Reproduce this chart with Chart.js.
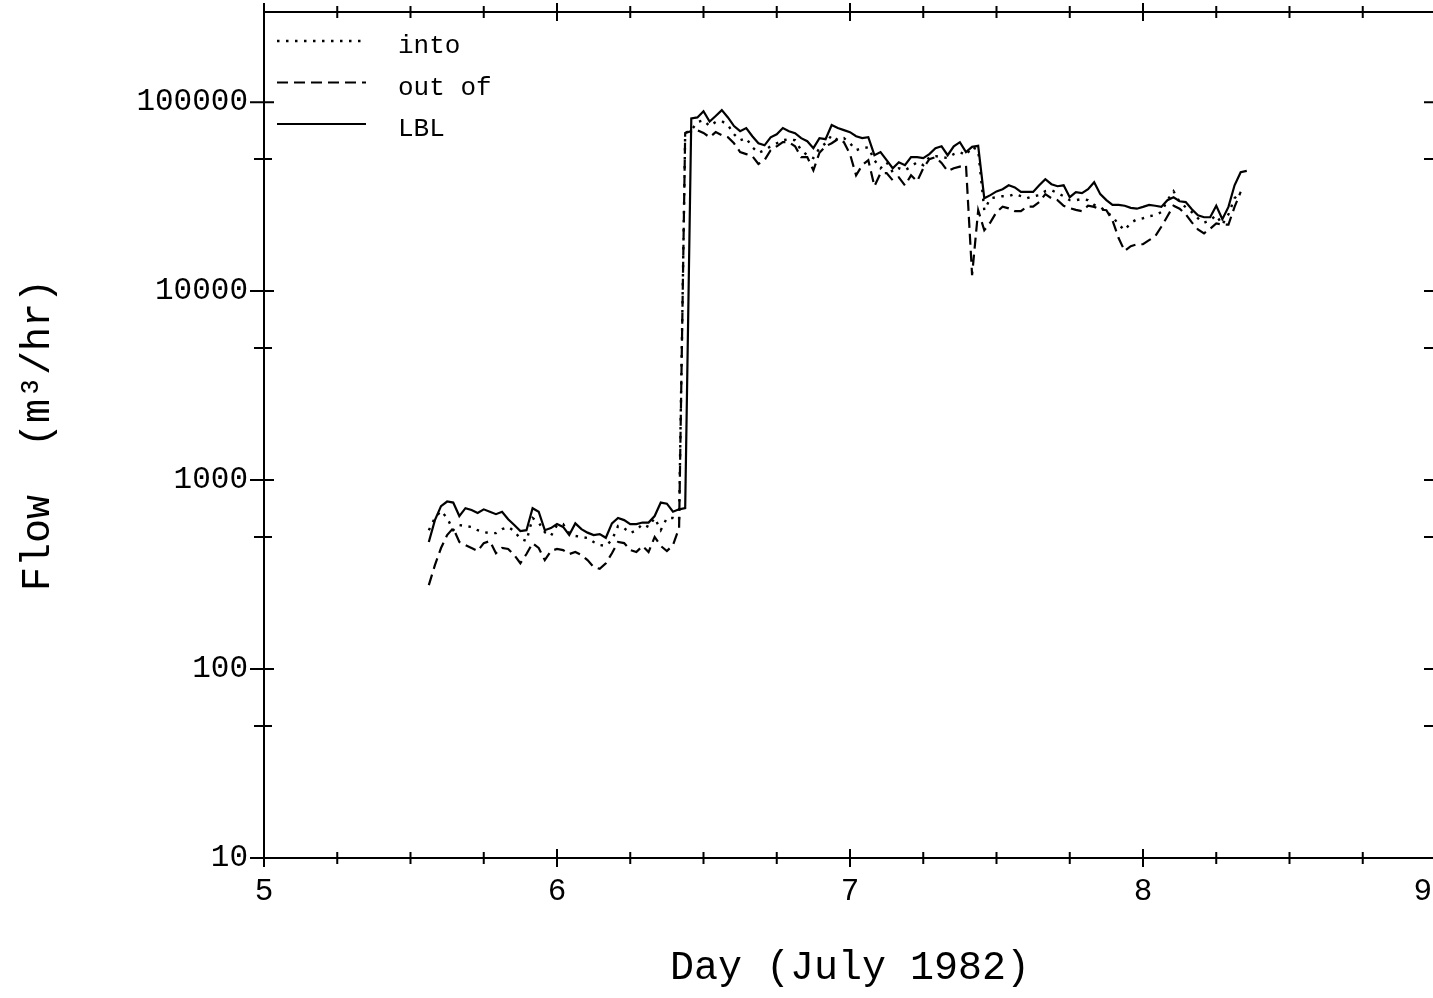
<!DOCTYPE html>
<html><head><meta charset="utf-8">
<script src="https://cdn.jsdelivr.net/npm/chart.js@4.4.1/dist/chart.umd.min.js"></script>
<style>
html,body{margin:0;padding:0;overflow:hidden;background:#fff;width:1433px;height:998px;}
#wrap{position:relative;width:1450px;height:998px;background:#fff;}
canvas{display:block;}
</style></head><body>
<div id="wrap"><canvas id="c" width="1450" height="998"></canvas></div>
<script>
// hours since 5 July 1982 00:00 (half-hourly readings)
const hours = [
13.5,14,14.5,15,15.5,16,16.5,17,17.5,18,
18.5,19,19.5,20,20.5,21,21.5,22,22.5,23,
23.5,24,24.5,25,25.5,26,26.5,27,27.5,28,
28.5,29,29.5,30,30.5,31,31.5,32,32.5,33,
33.5,34,34.5,35,35.5,36,36.5,37,37.5,38,
38.5,39,39.5,40,40.5,41,41.5,42,42.5,43,
43.5,44,44.5,45,45.5,46,46.5,47,47.5,48,
48.5,49,49.5,50,50.5,51,51.5,52,52.5,53,
53.5,54,54.5,55,55.5,56,56.5,57,57.5,58,
58.5,59,59.5,60,60.5,61,61.5,62,62.5,63,
63.5,64,64.5,65,65.5,66,66.5,67,67.5,68,
68.5,69,69.5,70,70.5,71,71.5,72,72.5,73,
73.5,74,74.5,75,75.5,76,76.5,77,77.5,78,
78.5,79,79.5,80,80.5];

const intoFlow = [
543,630,686,630,543,578,571,565,543,530,
524,524,550,565,537,488,476,630,597,530,
506,578,585,524,506,500,494,470,453,448,
482,571,557,524,543,585,565,630,543,630,
630,614,68700,71100,78500,80300,74700,78500,79300,75700,
67600,62900,64500,57700,54000,55700,58400,60600,62900,63700,
62900,55700,52400,50600,57100,60600,66800,62900,64500,60600,
55700,57100,57700,49300,44700,48100,42600,44700,43600,45600,
48100,46400,51200,51800,51200,50600,53100,54400,52400,58000,
55700,26800,31000,31400,31800,31800,32600,31800,31000,31800,
32200,33800,34200,33000,31800,30300,30300,30700,30300,28600,
27900,26200,24900,22500,21000,23000,24000,24300,24900,25200,
26200,30300,33800,29600,27800,26200,24300,23000,23700,25200,
22500,25500,31000,33500,null];

const outOfFlow = [
278,355,437,512,557,470,453,437,421,464,
476,410,437,432,401,363,406,464,437,377,
421,432,426,406,416,401,377,347,339,363,
410,470,464,426,416,448,416,500,448,421,
453,557,68700,70200,71100,68700,65200,69400,66800,65200,
60600,54400,53100,51800,47100,49300,55700,58400,61400,61400,
58400,51200,51200,43600,54000,58400,60600,63700,61400,53100,
41000,46400,49300,35900,42100,42100,38600,40000,36300,41000,
38100,44700,49900,51200,47700,43100,44700,45600,46400,12150,
26800,21000,23100,26200,28000,27400,26500,26500,28000,28000,
29600,32600,31000,30300,28300,27500,26900,26500,28300,27900,
27000,26800,23700,19100,16300,17300,17700,17700,18600,19500,
21900,24900,28300,27300,25500,23100,21200,20200,21400,22800,
22500,22500,27900,33500,null];

const lblFlow = [
470,614,728,770,760,645,710,694,670,700,
680,660,680,620,578,537,543,710,680,543,
557,585,565,512,590,550,527,512,518,495,
590,630,614,585,585,596,596,645,760,750,
680,700,710,82000,83000,89500,79000,84500,90700,83000,
74700,70200,72900,66000,60600,59100,65200,67600,72900,70200,
68500,64500,62100,57100,64500,63700,75700,72900,71100,69400,
66000,64500,65200,52400,54400,49300,44700,48100,46400,51200,
51200,50600,53100,57100,58400,52400,58400,61400,54400,58000,
58700,31000,32200,33700,34600,36300,35400,33500,33500,33500,
36300,39100,36800,35900,36300,31400,33400,33000,34600,37700,
32600,30300,28600,28600,28300,27600,27300,27900,28600,28300,
27900,30300,31400,29900,29600,27100,25200,24600,24600,28300,
24000,27900,36300,42600,43300];

const seriesNames = ['into', 'out of', 'LBL'];
const xTickValues = [5,5.25,5.5,5.75,6,6.25,6.5,6.75,7,7.25,7.5,7.75,8,8.25,8.5,8.75,9];
const xTickLabels = ['5','6','7','8','9'];
const yMajorTicks = [10,100,1000,10000,100000];
const yMinorTicks = [50,500,5000,50000];
const xTitle = 'Day (July 1982)';
const yTitle = 'Flow  (m\u00B3/hr)';

const FONT = '"Liberation Mono", "DejaVu Sans Mono", monospace';

function toPoints(arr) {
  return hours.map((h, i) => ({ x: 5 + h / 24, y: arr[i] }));
}

const framePlugin = {
  id: 'frame',
  afterDatasetsDraw(chart) {
    const { ctx, chartArea, scales } = chart;
    const { left, right, top, bottom } = chartArea;
    const xs = scales.x, ys = scales.y;
    ctx.save();
    ctx.strokeStyle = '#000';
    ctx.fillStyle = '#000';
    ctx.lineWidth = 2;
    ctx.setLineDash([]);
    ctx.strokeRect(left, top, right - left, bottom - top);
    ctx.beginPath();
    xTickValues.forEach(v => {
      const px = xs.getPixelForValue(v);
      const a = Number.isInteger(v) ? 9 : 6;
      ctx.moveTo(px, bottom - a); ctx.lineTo(px, bottom + a);
      ctx.moveTo(px, top - a); ctx.lineTo(px, top + a);
    });
    yMajorTicks.concat(yMinorTicks).forEach(v => {
      const py = ys.getPixelForValue(v);
      const major = yMajorTicks.includes(v);
      const o = major ? 14 : 10, n = major ? 10 : 8;
      ctx.moveTo(left - o, py); ctx.lineTo(left + n, py);
      ctx.moveTo(right - 12, py); ctx.lineTo(right + o, py);
    });
    ctx.stroke();

    // x tick labels
    ctx.font = '31px ' + FONT;
    ctx.textAlign = 'center';
    ctx.textBaseline = 'middle';
    xTickLabels.forEach(l => {
      let px = xs.getPixelForValue(Number(l));
      const w = ctx.measureText(l).width;
      px = Math.min(px, 1432 - w / 2);
      ctx.fillText(l, px, bottom + 34);
    });

    // legend
    chart.data.datasets.forEach((ds, k) => {
      const ly = top + 29 + k * 41.5;
      ctx.lineWidth = ds.borderWidth;
      ctx.lineCap = ds.borderCapStyle || 'butt';
      ctx.setLineDash(ds.borderDash || []);
      ctx.beginPath();
      ctx.moveTo(left + 13, ly); ctx.lineTo(left + 102, ly);
      ctx.stroke();
      ctx.setLineDash([]);
      ctx.font = '26px ' + FONT;
      ctx.textAlign = 'left';
      ctx.textBaseline = 'alphabetic';
      ctx.fillText(ds.label, left + 134, ly + 12);
    });
    ctx.restore();
  }
};

new Chart(document.getElementById('c'), {
  type: 'line',
  data: {
    datasets: [
      { label: seriesNames[0], data: toPoints(intoFlow), borderColor: '#000', borderWidth: 2.4,
        borderDash: [2.5, 6.5], borderCapStyle: 'butt', pointRadius: 0, tension: 0, fill: false },
      { label: seriesNames[1], data: toPoints(outOfFlow), borderColor: '#000', borderWidth: 2.2,
        borderDash: [11, 6], borderCapStyle: 'butt', pointRadius: 0, tension: 0, fill: false },
      { label: seriesNames[2], data: toPoints(lblFlow), borderColor: '#000', borderWidth: 2.2,
        borderDash: [], pointRadius: 0, tension: 0, fill: false }
    ]
  },
  options: {
    responsive: false,
    animation: false,
    devicePixelRatio: 1,
    layout: { padding: { top: 12, right: 14, bottom: 0, left: 0 } },
    plugins: { legend: { display: false }, tooltip: { enabled: false } },
    scales: {
      x: {
        type: 'linear', min: 5, max: 9,
        grid: { display: false, drawTicks: false },
        border: { display: false },
        ticks: { display: false },
        title: { display: true, text: xTitle, color: '#000',
                 font: { family: FONT, size: 40 }, padding: { top: 0, bottom: 6 } },
        afterFit(s) { s.height = 140; s.paddingLeft = 0; s.paddingRight = 0; }
      },
      y: {
        type: 'logarithmic', min: 10, max: 300000,
        grid: { display: false, drawTicks: false },
        border: { display: false },
        afterBuildTicks(s) { s.ticks = yMajorTicks.map(v => ({ value: v })); },
        ticks: { color: '#000', padding: 16, font: { family: FONT, size: 31 },
                 callback: v => String(v) },
        title: { display: true, text: yTitle, color: '#000',
                 font: { family: FONT, size: 40 }, padding: { top: 14, bottom: 0 } },
        afterFit(s) { s.width = 264; s.paddingTop = 0; s.paddingBottom = 0; }
      }
    }
  },
  plugins: [framePlugin]
});
</script>
</body></html>
